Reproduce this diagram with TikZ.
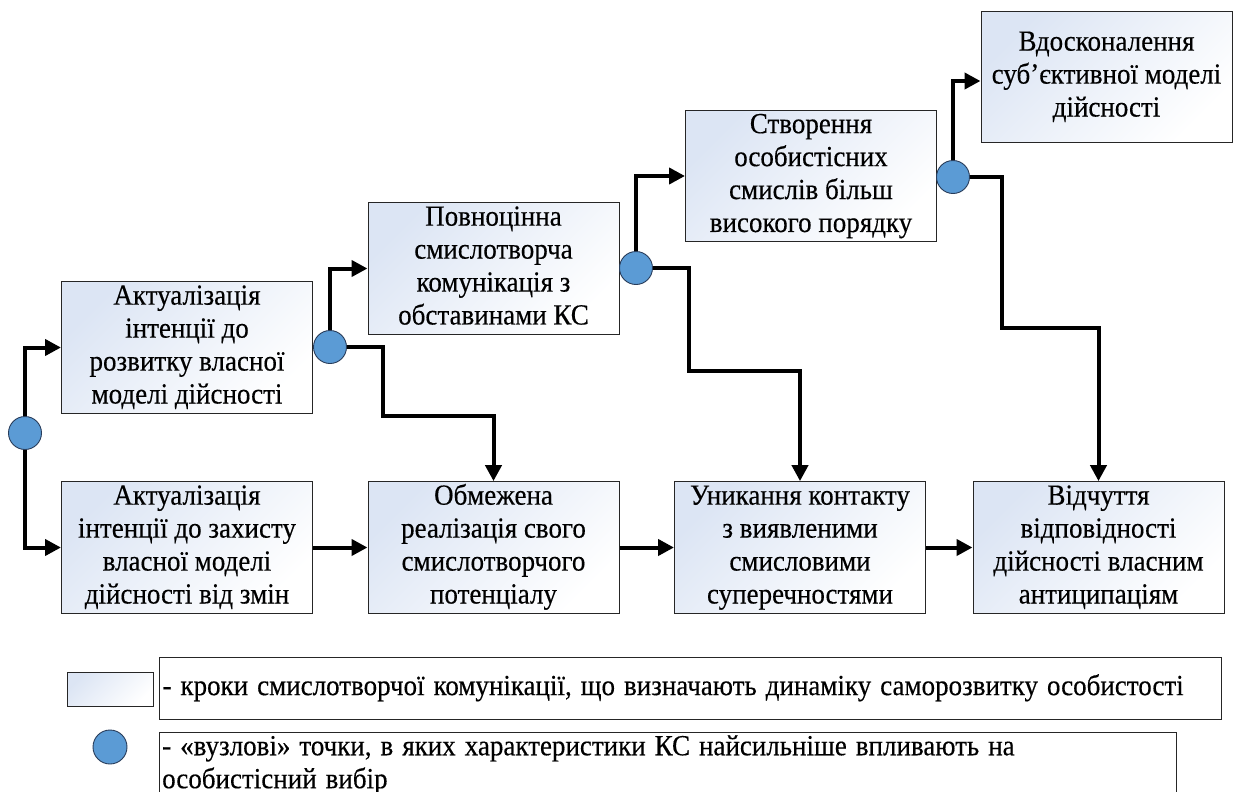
\documentclass[tikz,border=0pt]{standalone}
\usepackage{fontspec}
\usepackage{graphicx}
\setmainfont{Liberation Serif}[FakeBold=0.35]
\usetikzlibrary{arrows.meta}
\definecolor{boxgrad}{RGB}{220,229,244}
\definecolor{nodeblue}{RGB}{91,155,213}
\definecolor{nodeedge}{RGB}{40,60,90}
\newcommand{\boxtxt}[1]{\scalebox{1}[1.08]{\begin{tabular}{@{}c@{}}#1\end{tabular}}}
\newcommand{\legtxt}[1]{\scalebox{1}[1.08]{\begin{tabular}{@{}l@{}}#1\end{tabular}}}
\tikzset{
  stepbox/.style={draw=black!85, line width=1pt, top color=boxgrad, bottom color=white, shading angle=45,
    minimum width=251pt, minimum height=131pt, inner sep=0pt,
    font=\fontsize{27}{30.5}\selectfont},
  knot/.style={circle, draw=nodeedge, line width=0.9pt, fill=nodeblue, minimum size=33pt, inner sep=0pt},
  conn/.style={line width=4pt, -{Triangle[length=16pt,width=16pt]}},
  legtext/.style={font=\fontsize{27}{30.5}\selectfont, align=left, inner sep=3pt}
}
\begin{document}
\begin{tikzpicture}[x=1pt,y=-1pt]
\useasboundingbox (0,0) rectangle (1237,792);
% boxes
\node[stepbox] (B1) at (187,347.5) {\boxtxt{Актуалізація\\інтенції до\\розвитку власної\\моделі дійсності}};
\node[stepbox] (B2) at (187,547.5) {\boxtxt{Актуалізація\\інтенції до захисту\\власної моделі\\дійсності від змін}};
\node[stepbox] (B3) at (493.5,268.5) {\boxtxt{Повноцінна\\смислотворча\\комунікація з\\обставинами КС}};
\node[stepbox] (B4) at (811,176) {\boxtxt{Створення\\особистісних\\смислів більш\\високого порядку}};
\node[stepbox] (B5) at (1106.5,77) {\boxtxt{Вдосконалення\\суб’єктивної моделі\\дійсності}};
\node[stepbox] (B6) at (493.5,547.5) {\boxtxt{Обмежена\\реалізація свого\\смислотворчого\\потенціалу}};
\node[stepbox] (B7) at (800,547.5) {\boxtxt{Уникання контакту\\з виявленими\\смисловими\\суперечностями}};
\node[stepbox] (B8) at (1098.5,547.5) {\boxtxt{Відчуття\\відповідності\\дійсності власним\\антиципаціям}};
% knot positions
\coordinate (P0) at (25,433);
\coordinate (P1) at (330,347);
\coordinate (P2) at (636,268);
\coordinate (P3) at (953,177);
% connectors
\draw[conn] (P0) |- (B1.west);
\draw[conn] (P0) |- (B2.west);
\draw[conn] (P1) |- (B3.west);
\draw[conn] (P1) -- ++(53,0) |- ([yshift=65pt]B6.north) -- (B6.north);
\draw[conn] (P2) |- (B4.west);
\draw[conn] (P2) -- ++(53,0) |- ([yshift=110pt]B7.north) -- (B7.north);
\draw[conn] (P3) |- ([yshift=-4pt]B5.west);
\draw[conn] (P3) -- ++(49,0) |- ([yshift=153pt]B8.north) -- (B8.north);
\draw[conn] (B2.east) -- (B6.west);
\draw[conn] (B6.east) -- (B7.west);
\draw[conn] (B7.east) -- (B8.west);
\node[knot] (C0) at (P0) {};
\node[knot] (C1) at (P1) {};
\node[knot] (C2) at (P2) {};
\node[knot] (C3) at (P3) {};
% legend
\node[stepbox, minimum width=86pt, minimum height=34pt] (L1) at (110,689) {};
\node[knot, minimum size=34pt] (L2) at (110,747) {};
\node[legtext, draw=black!85, line width=1pt, anchor=north west, text width=1056pt, minimum height=62pt] (T1) at (159,657)
  {\legtxt{- кроки смислотворчої комунікації, що визначають динаміку саморозвитку особистості}};
\node[legtext, anchor=north west, text width=1011pt, inner ysep=0pt] (T2) at (159,732)
  {\legtxt{- «вузлові» точки, в яких характеристики КС найсильніше впливають на\\особистісний вибір}};
\draw[draw=black!85, line width=1pt] (159,732) rectangle (1176,812);
\end{tikzpicture}
\end{document}
